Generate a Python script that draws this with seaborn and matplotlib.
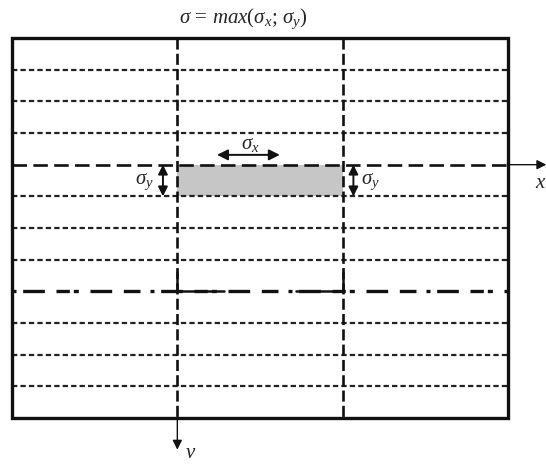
import numpy as np
import pandas as pd
import matplotlib
matplotlib.use("Agg")
import matplotlib.pyplot as plt
import seaborn as sns
from matplotlib.patches import Rectangle

# =====================================================
# Plate layout (diagram units: 3 columns wide, 12 strips high)
# =====================================================
plate_w = 3
plate_h = 12
cols = [1, 2]                              # vertical (dashed) joints
strip_rows = [1, 2, 3, 5, 6, 7, 9, 10, 11]  # short dashed strip lines
axis_row = 4                               # x axis (long dashes)
joint_row = 8                              # dash-dot joint line
cell_x = [1, 2]                            # shaded cell, x range
cell_y = [4, 5]                            # shaded cell, y range

title_txt = r"$\sigma\,=\,max(\sigma_x;\,\sigma_y)$"
sx_txt = r"$\sigma_x$"
sy_txt = r"$\sigma_y$"

sns.set_style("white")
plt.rcParams["mathtext.fontset"] = "custom"
plt.rcParams["mathtext.rm"] = "Liberation Serif"
plt.rcParams["mathtext.it"] = "Liberation Serif:italic"
plt.rcParams["font.family"] = ["Liberation Serif", "DejaVu Serif"]

fig = plt.figure(figsize=(5.46, 4.66), dpi=100)
ax = fig.add_axes([0, 0, 1, 1])
ax.axis("off")

# shaded cell
ax.add_patch(Rectangle((cell_x[0], cell_y[0]), cell_x[1] - cell_x[0], cell_y[1] - cell_y[0],
                       facecolor="#c6c6c6", edgecolor="none", zorder=1))

# strip lines through seaborn
df = pd.DataFrame({
    "x": np.tile([0, plate_w], len(strip_rows)),
    "y": np.repeat(strip_rows, 2),
    "row": np.repeat(strip_rows, 2),
})
sns.lineplot(data=df, x="x", y="y", units="row", estimator=None, sort=False,
             color="#222222", lw=1.6, linestyle=(0, (2.4, 1.4)), legend=False, ax=ax, zorder=2)
ax.set_xlabel("")
ax.set_ylabel("")
ax.set_xlim(-0.0726, 3.230)
ax.set_ylim(13.515, -1.2)

# x axis, long dashes inside the plate then solid arrow outside
ax.plot([0, plate_w], [axis_row, axis_row], color="#111111", lw=1.9,
        linestyle=(0, (5.5, 2.4)), zorder=3)
ax.annotate("", xy=(3.232, axis_row), xytext=(plate_w, axis_row),
            arrowprops=dict(arrowstyle="-|>", color="#111111", lw=1.0,
                            mutation_scale=14, shrinkA=0, shrinkB=0), zorder=3)
ax.text(3.163, axis_row + 0.58, "x", fontsize=15, style="italic", ha="left", va="center")

# dash-dot joint line
ax.plot([0, plate_w], [joint_row, joint_row], color="#111111", lw=2.4,
        linestyle=(0, (1.2, 2.0, 6.5, 3.5, 4.0, 1.2, 1.5, 3.5, 6.5, 3.5, 5.0, 3.0)), zorder=3)
for c, dx in zip(cols, [0.28, -0.28]):
    ax.plot([c, c, c + dx], [joint_row - 0.6, joint_row, joint_row], color="#111111",
            lw=1.8, solid_joinstyle="miter", zorder=3)

# vertical joints
for c in cols:
    ax.plot([c, c], [0, plate_h], color="#111111", lw=1.9,
            linestyle=(0, (4.2, 1.6)), zorder=3)

# y axis arrow
ax.annotate("", xy=(cols[0], 13.0), xytext=(cols[0], plate_h),
            arrowprops=dict(arrowstyle="-|>", color="#111111", lw=1.0,
                            mutation_scale=14, shrinkA=0, shrinkB=0), zorder=3)
ax.text(cols[0] + 0.08, 13.42, "v", fontsize=15, style="italic", ha="center", va="bottom")

# plate border
ax.add_patch(Rectangle((0, 0), plate_w, plate_h, facecolor="none",
                       edgecolor="#111111", lw=2.4, zorder=4))

# stress arrows and labels
ax.annotate("", xy=(1.24, 3.69), xytext=(1.62, 3.69),
            arrowprops=dict(arrowstyle="<|-|>", color="#111111", lw=1.4,
                            mutation_scale=16, shrinkA=0, shrinkB=0), zorder=5)
ax.text(1.44, 3.35, sx_txt, fontsize=15, ha="center", va="center", zorder=5)

for ax_x, lab_x in [(0.913, 0.80), (2.065, 2.17)]:
    ax.annotate("", xy=(ax_x, cell_y[0]), xytext=(ax_x, cell_y[1]),
                arrowprops=dict(arrowstyle="<|-|>", color="#111111", lw=1.4,
                                mutation_scale=14, shrinkA=0, shrinkB=0), zorder=5)
    ax.text(lab_x, 4.55, sy_txt, fontsize=15, ha="center", va="center", zorder=5)

ax.text(1.40, -0.62, title_txt, fontsize=15, ha="center", va="center")

fig.savefig("out.png", dpi=100)
